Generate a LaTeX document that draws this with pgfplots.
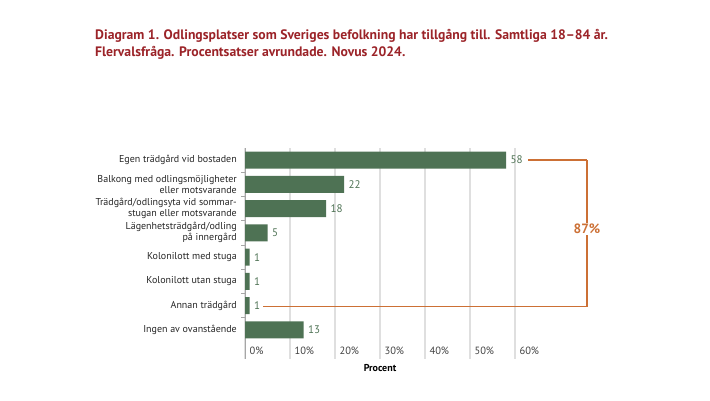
\documentclass[border=0pt]{standalone}
\usepackage{fontspec}
\setmainfont{PT Sans}
\usepackage{pgfplots}
\pgfplotsset{compat=1.18}
\definecolor{bargreen}{HTML}{4E7254}
\definecolor{titlered}{HTML}{9B2328}
\definecolor{accent}{HTML}{CC7035}
\begin{document}
\begin{tikzpicture}[x=1pt,y=1pt]
\useasboundingbox (0,0) rectangle (710,400);
\node[anchor=north west, align=left, text=titlered, font=\bfseries\fontsize{13.7}{17.5}\selectfont, inner sep=0pt] at (95,371)
 {Diagram 1. Odlingsplatser som Sveriges befolkning har tillgång till. Samtliga 18–84 år.\\Flervalsfråga. Procentsatser avrundade. Novus 2024.};
\begin{axis}[
  at={(245pt,252pt)}, anchor=north west,
  scale only axis, width=270pt, height=211pt,
  xmin=0, xmax=60, ymin=-0.5, ymax=8.2, y dir=reverse,
  xbar, bar width=17pt,
  clip=false,
  /pgf/number format/assume math mode=true,
  axis x line*=bottom, axis y line*=left,
  x axis line style={draw=none},
  y axis line style={draw=gray!70, line width=0.8pt},
  xtick={0,10,...,60},
  xticklabels={0\%,10\%,20\%,30\%,40\%,50\%,60\%},
  xmajorgrids, major grid style={draw=gray!25, line width=1.2pt},
  xticklabel style={anchor=south west, font=\fontsize{10.5}{12}\selectfont, text=black!75, xshift=1pt, yshift=1pt},
  ytick={0,...,7},
  yticklabels={Egen trädgård vid bostaden,
    {Balkong med odlingsmöjligheter\\eller motsvarande},
    {Trädgård/odlingsyta vid sommar-\\stugan eller motsvarande},
    {Lägenhetsträdgård/odling\\på innergård},
    Kolonilott med stuga, Kolonilott utan stuga, Annan trädgård, Ingen av ovanstående},
  yticklabel style={align=right, font=\fontsize{10}{11}\selectfont, text=black!85, inner sep=0pt, xshift=-8pt},
  major tick length=0pt,
  minor ytick={0.5,1.5,...,6.5},
  minor tick length=4pt, tick align=outside,
  minor tick style={draw=gray!70, line width=0.8pt},
  xlabel={Procent},
  xlabel style={at={(axis description cs:0.5,0)}, anchor=north, yshift=-2pt, font=\bfseries\fontsize{10}{12}\selectfont},
  nodes near coords,
  nodes near coords style={font=\fontsize{11}{13}\selectfont, text=bargreen, anchor=west, xshift=1pt},
]
\addplot[fill=bargreen, draw=none] coordinates {
(58,0) (22,1) (18,2) (5,3) (1,4) (1,5) (1,6) (13,7)};
\draw[draw=accent, line width=1.5pt] (axis cs:62.9,0) -- (axis cs:76,0);
\draw[draw=accent, line width=1.5pt] (axis cs:76,0) -- (axis cs:76,6.04);
\draw[draw=accent, line width=1.5pt] (axis cs:76,6.04) -- (axis cs:4,6.04);
\node[fill=white, text=accent, font=\bfseries\fontsize{13.5}{15}\selectfont, inner sep=1pt] at (axis cs:76,2.84) {87\%};
\end{axis}
\end{tikzpicture}
\end{document}
